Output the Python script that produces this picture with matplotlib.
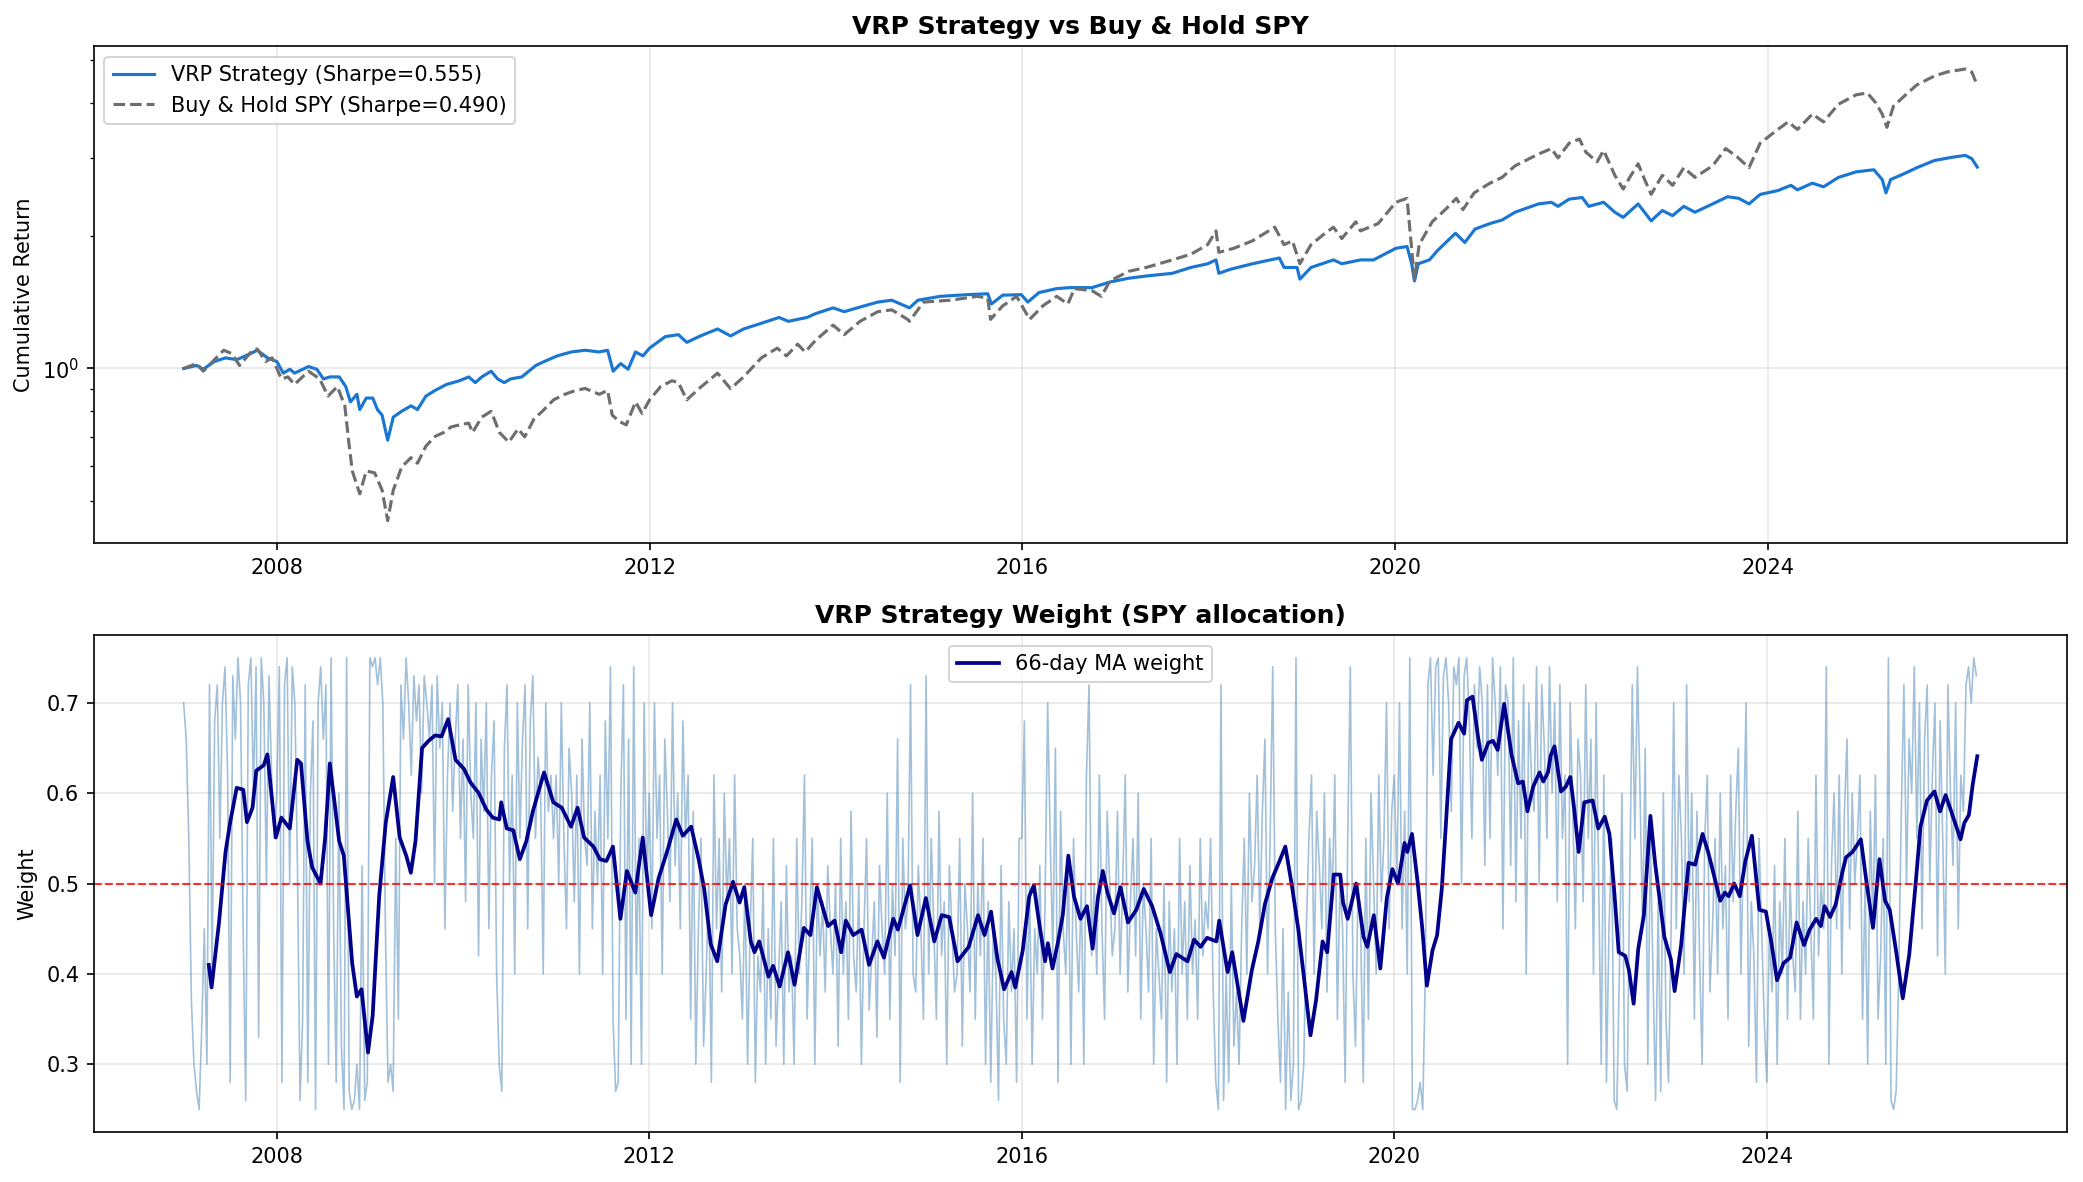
import numpy as np
import pandas as pd
import matplotlib
matplotlib.use("Agg")
import matplotlib.pyplot as plt
import matplotlib.dates as mdates
from matplotlib.ticker import NullFormatter

# cumulative return of the VRP strategy (decimal year, value)
vrp_points = [
    (2007.00, 1.000), (2007.14, 1.016), (2007.21, 0.996), (2007.33, 1.037), (2007.45, 1.057),
    (2007.57, 1.047), (2007.71, 1.079), (2007.79, 1.100), (2007.90, 1.057), (2008.00, 1.037),
    (2008.07, 0.976), (2008.14, 0.996), (2008.19, 0.976), (2008.34, 1.010), (2008.43, 0.996),
    (2008.50, 0.947), (2008.57, 0.957), (2008.67, 0.957), (2008.74, 0.910), (2008.79, 0.840),
    (2008.86, 0.874), (2008.89, 0.807), (2008.96, 0.857), (2009.03, 0.857), (2009.08, 0.807),
    (2009.13, 0.784), (2009.19, 0.688), (2009.25, 0.776), (2009.34, 0.800), (2009.44, 0.823),
    (2009.51, 0.807), (2009.60, 0.866), (2009.70, 0.892), (2009.82, 0.920), (2009.96, 0.938),
    (2010.06, 0.957), (2010.13, 0.929), (2010.20, 0.957), (2010.30, 0.986), (2010.37, 0.947),
    (2010.44, 0.929), (2010.51, 0.947), (2010.63, 0.957), (2010.78, 1.016), (2010.87, 1.037),
    (2011.01, 1.068), (2011.16, 1.090), (2011.31, 1.100), (2011.46, 1.090), (2011.55, 1.100),
    (2011.61, 0.986), (2011.69, 1.026), (2011.77, 0.996), (2011.85, 1.090), (2011.93, 1.068),
    (2012.00, 1.112), (2012.17, 1.181), (2012.31, 1.193), (2012.40, 1.146), (2012.53, 1.181),
    (2012.73, 1.229), (2012.87, 1.185), (2013.01, 1.229), (2013.20, 1.266), (2013.39, 1.305),
    (2013.49, 1.279), (2013.69, 1.305), (2013.78, 1.331), (2013.97, 1.372), (2014.09, 1.345),
    (2014.26, 1.378), (2014.45, 1.414), (2014.60, 1.428), (2014.79, 1.372), (2014.88, 1.428),
    (2015.12, 1.457), (2015.41, 1.470), (2015.63, 1.477), (2015.67, 1.400), (2015.79, 1.466),
    (2015.99, 1.470), (2016.06, 1.414), (2016.18, 1.486), (2016.37, 1.517), (2016.51, 1.525),
    (2016.75, 1.525), (2016.94, 1.570), (2017.14, 1.601), (2017.33, 1.620), (2017.61, 1.643),
    (2017.81, 1.694), (2017.99, 1.727), (2018.08, 1.762), (2018.11, 1.643), (2018.23, 1.677),
    (2018.47, 1.727), (2018.76, 1.780), (2018.81, 1.694), (2018.95, 1.694), (2018.98, 1.594),
    (2019.10, 1.694), (2019.34, 1.762), (2019.43, 1.727), (2019.63, 1.762), (2019.77, 1.762),
    (2020.01, 1.872), (2020.13, 1.890), (2020.18, 1.727), (2020.21, 1.579), (2020.25, 1.727),
    (2020.37, 1.762), (2020.46, 1.853), (2020.65, 2.025), (2020.75, 1.930), (2020.86, 2.070),
    (2021.02, 2.130), (2021.15, 2.170), (2021.29, 2.260), (2021.54, 2.360), (2021.68, 2.380),
    (2021.75, 2.330), (2021.87, 2.420), (2022.01, 2.440), (2022.08, 2.330), (2022.24, 2.380),
    (2022.36, 2.260), (2022.45, 2.200), (2022.61, 2.360), (2022.75, 2.160), (2022.87, 2.280),
    (2022.98, 2.220), (2023.10, 2.330), (2023.22, 2.260), (2023.41, 2.360), (2023.57, 2.450),
    (2023.69, 2.430), (2023.80, 2.360), (2023.92, 2.480), (2024.11, 2.530), (2024.25, 2.600),
    (2024.32, 2.540), (2024.48, 2.630), (2024.60, 2.580), (2024.76, 2.710), (2024.95, 2.790),
    (2025.14, 2.820), (2025.23, 2.680), (2025.27, 2.500), (2025.32, 2.680), (2025.46, 2.760),
    (2025.60, 2.850), (2025.79, 2.960), (2025.98, 3.010), (2026.12, 3.040), (2026.19, 2.990),
    (2026.25, 2.860),
]

# cumulative return of buy & hold SPY (decimal year, value)
spy_points = [
    (2007.00, 1.000), (2007.14, 1.026), (2007.21, 0.986), (2007.33, 1.047), (2007.43, 1.100),
    (2007.52, 1.080), (2007.60, 1.016), (2007.74, 1.100), (2007.79, 1.107), (2007.88, 1.037),
    (2007.95, 1.057), (2008.05, 0.947), (2008.12, 0.957), (2008.19, 0.920), (2008.34, 0.986),
    (2008.46, 0.947), (2008.55, 0.866), (2008.65, 0.910), (2008.73, 0.823), (2008.77, 0.688),
    (2008.81, 0.586), (2008.89, 0.520), (2008.96, 0.586), (2009.05, 0.580), (2009.13, 0.530),
    (2009.19, 0.452), (2009.25, 0.530), (2009.34, 0.598), (2009.44, 0.628), (2009.51, 0.610),
    (2009.60, 0.667), (2009.70, 0.702), (2009.79, 0.716), (2009.87, 0.737), (2009.96, 0.745),
    (2010.06, 0.752), (2010.10, 0.716), (2010.20, 0.776), (2010.30, 0.800), (2010.39, 0.716),
    (2010.49, 0.681), (2010.59, 0.730), (2010.66, 0.700), (2010.76, 0.768), (2010.85, 0.800),
    (2010.97, 0.849), (2011.09, 0.874), (2011.21, 0.892), (2011.31, 0.901), (2011.46, 0.874),
    (2011.55, 0.892), (2011.60, 0.784), (2011.67, 0.760), (2011.75, 0.745), (2011.85, 0.840),
    (2011.92, 0.791), (2012.00, 0.849), (2012.12, 0.910), (2012.24, 0.938), (2012.31, 0.929),
    (2012.40, 0.849), (2012.53, 0.900), (2012.73, 0.976), (2012.87, 0.900), (2013.01, 0.957),
    (2013.20, 1.057), (2013.37, 1.112), (2013.47, 1.068), (2013.59, 1.135), (2013.67, 1.090),
    (2013.78, 1.157), (2013.97, 1.254), (2014.09, 1.193), (2014.26, 1.279), (2014.45, 1.345),
    (2014.60, 1.358), (2014.77, 1.292), (2014.79, 1.279), (2014.94, 1.414), (2015.23, 1.428),
    (2015.52, 1.457), (2015.63, 1.443), (2015.66, 1.292), (2015.79, 1.386), (2015.94, 1.457),
    (2016.08, 1.292), (2016.22, 1.386), (2016.37, 1.457), (2016.49, 1.400), (2016.56, 1.517),
    (2016.75, 1.500), (2016.85, 1.457), (2016.94, 1.578), (2017.14, 1.660), (2017.33, 1.694),
    (2017.61, 1.762), (2017.81, 1.815), (2017.99, 1.908), (2018.08, 2.050), (2018.11, 1.833),
    (2018.27, 1.872), (2018.47, 1.946), (2018.71, 2.090), (2018.81, 1.908), (2018.90, 1.946),
    (2018.98, 1.727), (2019.10, 1.908), (2019.25, 2.025), (2019.34, 2.090), (2019.43, 1.970),
    (2019.58, 2.150), (2019.63, 2.050), (2019.82, 2.130), (2020.01, 2.380), (2020.13, 2.430),
    (2020.18, 1.870), (2020.21, 1.590), (2020.26, 1.908), (2020.40, 2.150), (2020.54, 2.290),
    (2020.66, 2.430), (2020.73, 2.290), (2020.85, 2.500), (2021.02, 2.630), (2021.15, 2.710),
    (2021.29, 2.880), (2021.54, 3.060), (2021.68, 3.150), (2021.75, 3.000), (2021.87, 3.240),
    (2021.98, 3.310), (2022.05, 3.090), (2022.17, 2.940), (2022.24, 3.120), (2022.36, 2.740),
    (2022.45, 2.550), (2022.52, 2.710), (2022.61, 2.910), (2022.68, 2.680), (2022.75, 2.480),
    (2022.87, 2.740), (2022.98, 2.600), (2023.10, 2.850), (2023.22, 2.710), (2023.41, 2.880),
    (2023.55, 3.150), (2023.67, 3.020), (2023.80, 2.850), (2023.92, 3.240), (2024.11, 3.480),
    (2024.22, 3.620), (2024.32, 3.480), (2024.48, 3.770), (2024.60, 3.620), (2024.76, 3.970),
    (2024.95, 4.170), (2025.07, 4.210), (2025.16, 4.000), (2025.23, 3.770), (2025.28, 3.520),
    (2025.35, 3.930), (2025.46, 4.130), (2025.60, 4.390), (2025.79, 4.600), (2025.93, 4.700),
    (2026.12, 4.770), (2026.19, 4.700), (2026.25, 4.380),
]

# 66-day moving average of the SPY weight (decimal year, value)
ma_points = [
    (2007.27, 0.410), (2007.30, 0.385), (2007.38, 0.457), (2007.45, 0.535), (2007.50, 0.568),
    (2007.57, 0.606), (2007.64, 0.604), (2007.68, 0.568), (2007.74, 0.584), (2007.78, 0.625),
    (2007.86, 0.631), (2007.90, 0.643), (2007.99, 0.551), (2008.05, 0.573), (2008.14, 0.561),
    (2008.22, 0.637), (2008.26, 0.633), (2008.33, 0.547), (2008.38, 0.518), (2008.47, 0.500),
    (2008.52, 0.551), (2008.57, 0.633), (2008.67, 0.547), (2008.72, 0.531), (2008.77, 0.465),
    (2008.81, 0.412), (2008.86, 0.375), (2008.91, 0.383), (2008.98, 0.313), (2009.03, 0.354),
    (2009.10, 0.486), (2009.17, 0.567), (2009.25, 0.618), (2009.32, 0.551), (2009.39, 0.531),
    (2009.44, 0.512), (2009.49, 0.547), (2009.56, 0.650), (2009.63, 0.658), (2009.70, 0.664),
    (2009.77, 0.663), (2009.84, 0.682), (2009.92, 0.637), (2010.01, 0.627), (2010.08, 0.612),
    (2010.17, 0.600), (2010.25, 0.582), (2010.32, 0.573), (2010.39, 0.571), (2010.41, 0.590),
    (2010.47, 0.561), (2010.54, 0.559), (2010.61, 0.527), (2010.68, 0.547), (2010.75, 0.580),
    (2010.87, 0.623), (2010.97, 0.590), (2011.06, 0.584), (2011.16, 0.563), (2011.23, 0.584),
    (2011.30, 0.551), (2011.40, 0.541), (2011.47, 0.527), (2011.54, 0.525), (2011.61, 0.541),
    (2011.69, 0.461), (2011.76, 0.514), (2011.85, 0.490), (2011.93, 0.551), (2012.02, 0.465),
    (2012.10, 0.506), (2012.19, 0.535), (2012.29, 0.571), (2012.36, 0.553), (2012.45, 0.563),
    (2012.53, 0.527), (2012.59, 0.494), (2012.66, 0.433), (2012.73, 0.414), (2012.82, 0.477),
    (2012.90, 0.502), (2012.97, 0.479), (2013.02, 0.496), (2013.09, 0.436), (2013.13, 0.424),
    (2013.18, 0.436), (2013.28, 0.397), (2013.33, 0.409), (2013.40, 0.386), (2013.49, 0.424),
    (2013.56, 0.388), (2013.66, 0.451), (2013.73, 0.443), (2013.80, 0.496), (2013.92, 0.453),
    (2013.99, 0.459), (2014.06, 0.424), (2014.11, 0.459), (2014.19, 0.443), (2014.28, 0.449),
    (2014.36, 0.410), (2014.45, 0.436), (2014.52, 0.418), (2014.62, 0.461), (2014.67, 0.449),
    (2014.80, 0.498), (2014.88, 0.443), (2014.97, 0.484), (2015.06, 0.436), (2015.14, 0.465),
    (2015.22, 0.463), (2015.31, 0.414), (2015.43, 0.430), (2015.53, 0.465), (2015.60, 0.443),
    (2015.67, 0.469), (2015.74, 0.416), (2015.81, 0.383), (2015.89, 0.402), (2015.93, 0.385),
    (2016.01, 0.426), (2016.08, 0.486), (2016.13, 0.498), (2016.18, 0.461), (2016.25, 0.414),
    (2016.28, 0.434), (2016.33, 0.406), (2016.39, 0.436), (2016.44, 0.465), (2016.50, 0.531),
    (2016.56, 0.486), (2016.63, 0.461), (2016.70, 0.475), (2016.76, 0.428), (2016.82, 0.486),
    (2016.87, 0.514), (2016.92, 0.490), (2016.99, 0.467), (2017.06, 0.496), (2017.14, 0.457),
    (2017.23, 0.471), (2017.31, 0.494), (2017.40, 0.475), (2017.49, 0.445), (2017.59, 0.402),
    (2017.66, 0.422), (2017.78, 0.414), (2017.85, 0.438), (2017.92, 0.430), (2017.99, 0.440),
    (2018.09, 0.436), (2018.12, 0.459), (2018.21, 0.402), (2018.26, 0.424), (2018.38, 0.348),
    (2018.47, 0.404), (2018.54, 0.436), (2018.61, 0.477), (2018.69, 0.506), (2018.76, 0.523),
    (2018.83, 0.541), (2018.90, 0.498), (2018.97, 0.449), (2019.04, 0.387), (2019.10, 0.332),
    (2019.16, 0.371), (2019.23, 0.436), (2019.28, 0.424), (2019.35, 0.510), (2019.42, 0.510),
    (2019.45, 0.479), (2019.50, 0.461), (2019.59, 0.500), (2019.67, 0.441), (2019.71, 0.430),
    (2019.78, 0.465), (2019.85, 0.406), (2019.92, 0.484), (2019.98, 0.516), (2020.04, 0.500),
    (2020.11, 0.545), (2020.14, 0.535), (2020.19, 0.555), (2020.25, 0.502), (2020.30, 0.451),
    (2020.35, 0.387), (2020.41, 0.426), (2020.46, 0.443), (2020.51, 0.494), (2020.55, 0.559),
    (2020.61, 0.660), (2020.69, 0.678), (2020.75, 0.666), (2020.78, 0.703), (2020.84, 0.707),
    (2020.90, 0.662), (2020.94, 0.637), (2021.01, 0.656), (2021.06, 0.658), (2021.11, 0.648),
    (2021.18, 0.699), (2021.26, 0.642), (2021.33, 0.611), (2021.38, 0.613), (2021.43, 0.580),
    (2021.49, 0.607), (2021.56, 0.623), (2021.60, 0.613), (2021.65, 0.623), (2021.68, 0.642),
    (2021.72, 0.652), (2021.79, 0.602), (2021.84, 0.607), (2021.89, 0.618), (2021.93, 0.584),
    (2021.98, 0.535), (2022.04, 0.590), (2022.13, 0.592), (2022.19, 0.561), (2022.26, 0.574),
    (2022.31, 0.555), (2022.36, 0.494), (2022.41, 0.424), (2022.48, 0.420), (2022.52, 0.404),
    (2022.57, 0.367), (2022.62, 0.428), (2022.68, 0.465), (2022.75, 0.575), (2022.80, 0.523),
    (2022.90, 0.441), (2022.97, 0.416), (2023.01, 0.381), (2023.08, 0.432), (2023.16, 0.523),
    (2023.23, 0.521), (2023.31, 0.555), (2023.37, 0.535), (2023.50, 0.481), (2023.55, 0.490),
    (2023.59, 0.486), (2023.65, 0.500), (2023.71, 0.486), (2023.77, 0.525), (2023.84, 0.553),
    (2023.92, 0.471), (2023.99, 0.469), (2024.05, 0.434), (2024.11, 0.393), (2024.18, 0.412),
    (2024.25, 0.418), (2024.32, 0.457), (2024.40, 0.432), (2024.46, 0.449), (2024.53, 0.461),
    (2024.58, 0.453), (2024.62, 0.475), (2024.68, 0.463), (2024.74, 0.477), (2024.81, 0.512),
    (2024.85, 0.529), (2024.92, 0.535), (2025.01, 0.549), (2025.07, 0.502), (2025.14, 0.451),
    (2025.21, 0.527), (2025.27, 0.481), (2025.32, 0.471), (2025.39, 0.424), (2025.46, 0.373),
    (2025.53, 0.422), (2025.60, 0.502), (2025.65, 0.563), (2025.72, 0.592), (2025.80, 0.602),
    (2025.86, 0.580), (2025.92, 0.598), (2025.98, 0.580), (2026.08, 0.549), (2026.12, 0.567),
    (2026.17, 0.576), (2026.21, 0.609), (2026.26, 0.641),
]

# raw daily weight, sampled about every 10 days (36 samples per year)
w2007 = [0.70, 0.66, 0.55, 0.37, 0.30, 0.27, 0.25, 0.34, 0.45, 0.30, 0.72, 0.40, 0.68, 0.72, 0.55, 0.70, 0.74, 0.62,
         0.28, 0.73, 0.66, 0.75, 0.70, 0.45, 0.26, 0.72, 0.75, 0.60, 0.74, 0.33, 0.75, 0.70, 0.50, 0.73, 0.62, 0.55]
w2008 = [0.60, 0.74, 0.28, 0.72, 0.75, 0.50, 0.74, 0.70, 0.52, 0.26, 0.35, 0.72, 0.28, 0.60, 0.68, 0.25, 0.70, 0.74,
         0.66, 0.72, 0.30, 0.75, 0.45, 0.28, 0.60, 0.32, 0.25, 0.75, 0.27, 0.25, 0.26, 0.30, 0.25, 0.52, 0.26, 0.28]
w2009 = [0.75, 0.74, 0.75, 0.72, 0.75, 0.70, 0.45, 0.28, 0.30, 0.27, 0.55, 0.35, 0.72, 0.66, 0.75, 0.70, 0.62, 0.73,
         0.68, 0.72, 0.60, 0.73, 0.70, 0.66, 0.72, 0.50, 0.73, 0.65, 0.70, 0.45, 0.62, 0.70, 0.58, 0.66, 0.72, 0.55]
w2010 = [0.66, 0.48, 0.72, 0.60, 0.55, 0.70, 0.42, 0.66, 0.58, 0.70, 0.45, 0.62, 0.68, 0.40, 0.30, 0.27, 0.65, 0.72,
         0.50, 0.62, 0.40, 0.70, 0.55, 0.66, 0.72, 0.45, 0.68, 0.73, 0.55, 0.64, 0.60, 0.40, 0.70, 0.58, 0.62, 0.55]
w2011 = [0.62, 0.50, 0.70, 0.55, 0.45, 0.65, 0.60, 0.48, 0.62, 0.40, 0.66, 0.55, 0.52, 0.70, 0.45, 0.58, 0.50, 0.62,
         0.40, 0.68, 0.55, 0.74, 0.35, 0.27, 0.28, 0.60, 0.72, 0.35, 0.66, 0.30, 0.74, 0.40, 0.55, 0.30, 0.70, 0.50]
w2012 = [0.60, 0.45, 0.70, 0.55, 0.62, 0.40, 0.66, 0.58, 0.48, 0.70, 0.52, 0.60, 0.45, 0.68, 0.55, 0.62, 0.35, 0.58,
         0.30, 0.45, 0.55, 0.32, 0.40, 0.50, 0.28, 0.62, 0.45, 0.55, 0.38, 0.60, 0.48, 0.55, 0.40, 0.62, 0.45, 0.42]
w2013 = [0.35, 0.50, 0.30, 0.45, 0.55, 0.28, 0.42, 0.38, 0.50, 0.30, 0.45, 0.35, 0.55, 0.32, 0.40, 0.48, 0.30, 0.52,
         0.38, 0.42, 0.30, 0.55, 0.40, 0.48, 0.62, 0.35, 0.45, 0.55, 0.30, 0.50, 0.42, 0.48, 0.38, 0.52, 0.45, 0.40]
w2014 = [0.50, 0.32, 0.55, 0.40, 0.48, 0.35, 0.58, 0.42, 0.38, 0.50, 0.30, 0.45, 0.55, 0.36, 0.42, 0.48, 0.33, 0.52,
         0.45, 0.40, 0.60, 0.35, 0.50, 0.42, 0.66, 0.28, 0.55, 0.45, 0.48, 0.72, 0.40, 0.38, 0.52, 0.45, 0.35, 0.73]
w2015 = [0.40, 0.55, 0.45, 0.35, 0.58, 0.42, 0.48, 0.30, 0.52, 0.45, 0.38, 0.40, 0.55, 0.32, 0.50, 0.45, 0.38, 0.60,
         0.35, 0.50, 0.42, 0.55, 0.30, 0.48, 0.28, 0.45, 0.40, 0.26, 0.52, 0.35, 0.30, 0.48, 0.38, 0.45, 0.28, 0.55]
w2016 = [0.55, 0.68, 0.35, 0.50, 0.30, 0.45, 0.40, 0.52, 0.35, 0.48, 0.70, 0.55, 0.42, 0.65, 0.28, 0.58, 0.45, 0.40,
         0.52, 0.30, 0.55, 0.45, 0.38, 0.50, 0.30, 0.62, 0.72, 0.42, 0.50, 0.40, 0.62, 0.45, 0.35, 0.58, 0.50, 0.42]
w2017 = [0.45, 0.58, 0.40, 0.50, 0.62, 0.38, 0.48, 0.55, 0.42, 0.60, 0.35, 0.50, 0.45, 0.38, 0.55, 0.30, 0.45, 0.40,
         0.35, 0.50, 0.28, 0.48, 0.38, 0.45, 0.30, 0.55, 0.40, 0.48, 0.35, 0.52, 0.40, 0.46, 0.35, 0.55, 0.42, 0.48]
w2018 = [0.45, 0.55, 0.38, 0.28, 0.25, 0.72, 0.26, 0.40, 0.28, 0.50, 0.32, 0.38, 0.30, 0.45, 0.55, 0.40, 0.60, 0.48,
         0.52, 0.62, 0.45, 0.58, 0.66, 0.40, 0.55, 0.74, 0.45, 0.35, 0.28, 0.45, 0.25, 0.38, 0.26, 0.30, 0.75, 0.25]
w2019 = [0.26, 0.30, 0.45, 0.55, 0.62, 0.40, 0.58, 0.52, 0.45, 0.60, 0.38, 0.55, 0.48, 0.62, 0.35, 0.50, 0.45, 0.28,
         0.55, 0.74, 0.40, 0.32, 0.50, 0.45, 0.28, 0.55, 0.35, 0.60, 0.50, 0.40, 0.62, 0.48, 0.55, 0.70, 0.45, 0.58]
w2020 = [0.62, 0.50, 0.70, 0.45, 0.58, 0.40, 0.75, 0.25, 0.25, 0.26, 0.28, 0.25, 0.40, 0.72, 0.75, 0.62, 0.74, 0.75,
         0.55, 0.73, 0.75, 0.70, 0.58, 0.74, 0.72, 0.75, 0.50, 0.73, 0.75, 0.68, 0.55, 0.72, 0.65, 0.74, 0.70, 0.52]
w2021 = [0.72, 0.55, 0.75, 0.70, 0.62, 0.74, 0.45, 0.72, 0.70, 0.52, 0.75, 0.48, 0.68, 0.55, 0.72, 0.40, 0.70, 0.62,
         0.58, 0.74, 0.50, 0.72, 0.65, 0.55, 0.74, 0.60, 0.70, 0.48, 0.72, 0.55, 0.62, 0.30, 0.70, 0.58, 0.45, 0.66]
w2022 = [0.62, 0.48, 0.72, 0.55, 0.66, 0.40, 0.70, 0.50, 0.30, 0.62, 0.28, 0.45, 0.55, 0.26, 0.25, 0.40, 0.60, 0.30,
         0.27, 0.50, 0.72, 0.55, 0.74, 0.60, 0.45, 0.65, 0.30, 0.55, 0.40, 0.26, 0.48, 0.27, 0.60, 0.35, 0.28, 0.45]
w2023 = [0.70, 0.45, 0.62, 0.55, 0.40, 0.72, 0.48, 0.60, 0.35, 0.58, 0.42, 0.30, 0.55, 0.62, 0.38, 0.45, 0.55, 0.40,
         0.60, 0.45, 0.52, 0.35, 0.62, 0.48, 0.58, 0.65, 0.40, 0.55, 0.70, 0.32, 0.48, 0.42, 0.28, 0.55, 0.45, 0.35]
w2024 = [0.28, 0.45, 0.38, 0.52, 0.30, 0.48, 0.40, 0.55, 0.35, 0.50, 0.42, 0.38, 0.58, 0.35, 0.48, 0.40, 0.55, 0.45,
         0.35, 0.62, 0.42, 0.50, 0.45, 0.74, 0.30, 0.52, 0.60, 0.45, 0.62, 0.40, 0.58, 0.66, 0.45, 0.60, 0.50, 0.55]
w2025 = [0.62, 0.35, 0.50, 0.30, 0.58, 0.45, 0.62, 0.35, 0.42, 0.55, 0.30, 0.75, 0.26, 0.25, 0.27, 0.40, 0.58, 0.72,
         0.50, 0.66, 0.60, 0.74, 0.55, 0.70, 0.45, 0.66, 0.72, 0.50, 0.62, 0.70, 0.42, 0.68, 0.55, 0.40, 0.72, 0.60]
w2026 = [0.52, 0.70, 0.45, 0.62, 0.58, 0.72, 0.74, 0.70, 0.75, 0.73]

raw_years = {2007: w2007, 2008: w2008, 2009: w2009, 2010: w2010, 2011: w2011, 2012: w2012,
             2013: w2013, 2014: w2014, 2015: w2015, 2016: w2016, 2017: w2017, 2018: w2018,
             2019: w2019, 2020: w2020, 2021: w2021, 2022: w2022, 2023: w2023, 2024: w2024,
             2025: w2025, 2026: w2026}

vrp_sharpe = 0.555
spy_sharpe = 0.490


def to_dates(years):
    """decimal years -> timestamps"""
    years = np.asarray(years, dtype=float)
    return pd.Timestamp('2000-01-01') + pd.to_timedelta((years - 2000.0) * 365.25, unit='D')


vrp_t, vrp_v = zip(*vrp_points)
spy_t, spy_v = zip(*spy_points)
ma_t, ma_v = zip(*ma_points)

raw_t, raw_v = [], []
for yr, vals in raw_years.items():
    for i, v in enumerate(vals):
        raw_t.append(yr + i / 36.0)
        raw_v.append(v)

fig, (ax1, ax2) = plt.subplots(2, 1, figsize=(2083 / 150, 1182 / 150), dpi=150)
fig.subplots_adjust(left=0.0451, right=0.9923, top=0.9607, bottom=0.0423, hspace=0.185)

# top: cumulative returns
ax1.plot(to_dates(vrp_t), vrp_v, color='#1976D2', linewidth=1.5,
         label=f'VRP Strategy (Sharpe={vrp_sharpe:.3f})')
ax1.plot(to_dates(spy_t), spy_v, color='#6e6e6e', linewidth=1.5, linestyle='--',
         label=f'Buy & Hold SPY (Sharpe={spy_sharpe:.3f})')
ax1.set_yscale('log')
ax1.yaxis.set_minor_formatter(NullFormatter())
ax1.set_title('VRP Strategy vs Buy & Hold SPY', fontsize=12, fontweight='bold')
ax1.set_ylabel('Cumulative Return')
ax1.legend(loc='upper left')
ax1.grid(True, alpha=0.3)

# bottom: weights
ax2.plot(to_dates(raw_t), raw_v, color='steelblue', linewidth=0.8, alpha=0.5)
ax2.plot(to_dates(ma_t), ma_v, color='darkblue', linewidth=1.8, label='66-day MA weight')
ax2.axhline(0.5, color='red', linestyle='--', linewidth=1, alpha=0.8)
ax2.set_title('VRP Strategy Weight (SPY allocation)', fontsize=12, fontweight='bold')
ax2.set_ylabel('Weight')
ax2.legend(loc='upper center')
ax2.grid(True, alpha=0.3)

for ax in (ax1, ax2):
    ax.xaxis.set_major_locator(mdates.YearLocator(4))
    ax.xaxis.set_major_formatter(mdates.DateFormatter('%Y'))

fig.savefig('out.png', dpi=150)
